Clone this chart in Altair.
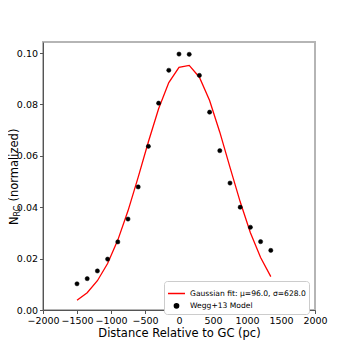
import altair as alt
import pandas as pd

# --- data ---
dist_pc = [-1500, -1350, -1200, -1050, -900, -750, -600, -450, -300, -150,
           0, 150, 300, 450, 600, 750, 900, 1050, 1200, 1350]
wegg_model = [0.0102, 0.0122, 0.0152, 0.0198, 0.0265, 0.0354, 0.0479, 0.0637,
              0.0805, 0.0933, 0.0996, 0.0995, 0.0913, 0.0770, 0.0620, 0.0494,
              0.0400, 0.0322, 0.0266, 0.0232]
gauss_fit = [0.0038, 0.0067, 0.0114, 0.0181, 0.0272, 0.0386, 0.0517, 0.0655,
             0.0783, 0.0885, 0.0944, 0.0952, 0.0906, 0.0815, 0.0692, 0.0555,
             0.0421, 0.0301, 0.0204, 0.0130]
x_ticks = [-2000, -1500, -1000, -500, 0, 500, 1000, 1500, 2000]
y_ticks = [0.0, 0.02, 0.04, 0.06, 0.08, 0.10]

fit_label = "Gaussian fit: μ=96.0, σ=628.0"
model_label = "Wegg+13 Model"
series_domain = [fit_label, model_label]

df_fit = pd.DataFrame({"x": dist_pc, "y": gauss_fit, "series": fit_label})
df_model = pd.DataFrame({"x": dist_pc, "y": wegg_model, "series": model_label})

FONT = "DejaVu Sans"

x_enc = alt.X(
    "x:Q",
    scale=alt.Scale(domain=[-2000, 2000], nice=False),
    axis=alt.Axis(values=x_ticks, format="d", title="Distance Relative to GC (pc)",
                  grid=False, labelFlush=False),
)
y_enc = alt.Y(
    "y:Q",
    scale=alt.Scale(domain=[0, 0.1043], nice=False, zero=False),
    axis=alt.Axis(values=y_ticks, format=".2f", title=None, grid=False),
)

legend = alt.Legend(
    title=None, orient="none", legendX=121, legendY=239,
    fillColor="white", strokeColor="#cccccc", cornerRadius=3, padding=3,
    labelFontSize=7.6, labelFont=FONT, labelColor="black", rowPadding=2,
    symbolStrokeWidth=1.5, labelLimit=300, labelOffset=4,
)

color_scale = alt.Scale(domain=series_domain, range=["#ff0000", "#000000"])

line = alt.Chart(df_fit).mark_line(strokeWidth=1.3).encode(
    x=x_enc, y=y_enc,
    color=alt.Color("series:N", scale=color_scale, legend=legend),
)

points = alt.Chart(df_model).mark_point(filled=True, opacity=1, strokeWidth=0.5).encode(
    x=x_enc, y=y_enc,
    color=alt.Color("series:N", scale=color_scale, legend=legend),
    stroke=alt.Stroke("series:N", scale=color_scale, legend=legend),
    shape=alt.Shape("series:N", scale=alt.Scale(domain=series_domain, range=["stroke", "circle"]), legend=legend),
    size=alt.Size("series:N", scale=alt.Scale(domain=series_domain, range=[290, 18]), legend=legend),
)

# y-axis title with subscript, built from text pieces
title_df = pd.DataFrame({"t": [0]})
t_N = alt.Chart(title_df).mark_text(text="N", angle=270, align="left", baseline="middle",
                                     font=FONT, fontSize=11.5).encode(
    x=alt.value(-28), y=alt.value(183))
t_RC = alt.Chart(title_df).mark_text(text="RC", angle=270, align="left", baseline="middle",
                                      font=FONT, fontSize=8).encode(
    x=alt.value(-25), y=alt.value(174.4))
t_rest = alt.Chart(title_df).mark_text(text="(normalized)", angle=270, align="left", baseline="middle",
                                        font=FONT, fontSize=11.5).encode(
    x=alt.value(-28), y=alt.value(159.5))

chart = alt.layer(line, points, t_N, t_RC, t_rest).properties(
    width=272, height=268,
    padding={"left": 35, "top": 34, "right": 27, "bottom": 32},
    autosize="none",
).configure(font=FONT).configure_view(
    stroke="#b5b5b5", strokeWidth=2
).configure_axis(
    domainColor="#555555", domainWidth=1, tickColor="#555555", tickSize=3.5,
    labelFontSize=9.5, labelColor="black", labelFont=FONT, labelPadding=2,
    titleFontSize=11.5, titleFontWeight="normal", titleColor="black", titleFont=FONT,
    titlePadding=2,
)

chart.save("out.html", embed_options={"renderer": "svg", "actions": False})
